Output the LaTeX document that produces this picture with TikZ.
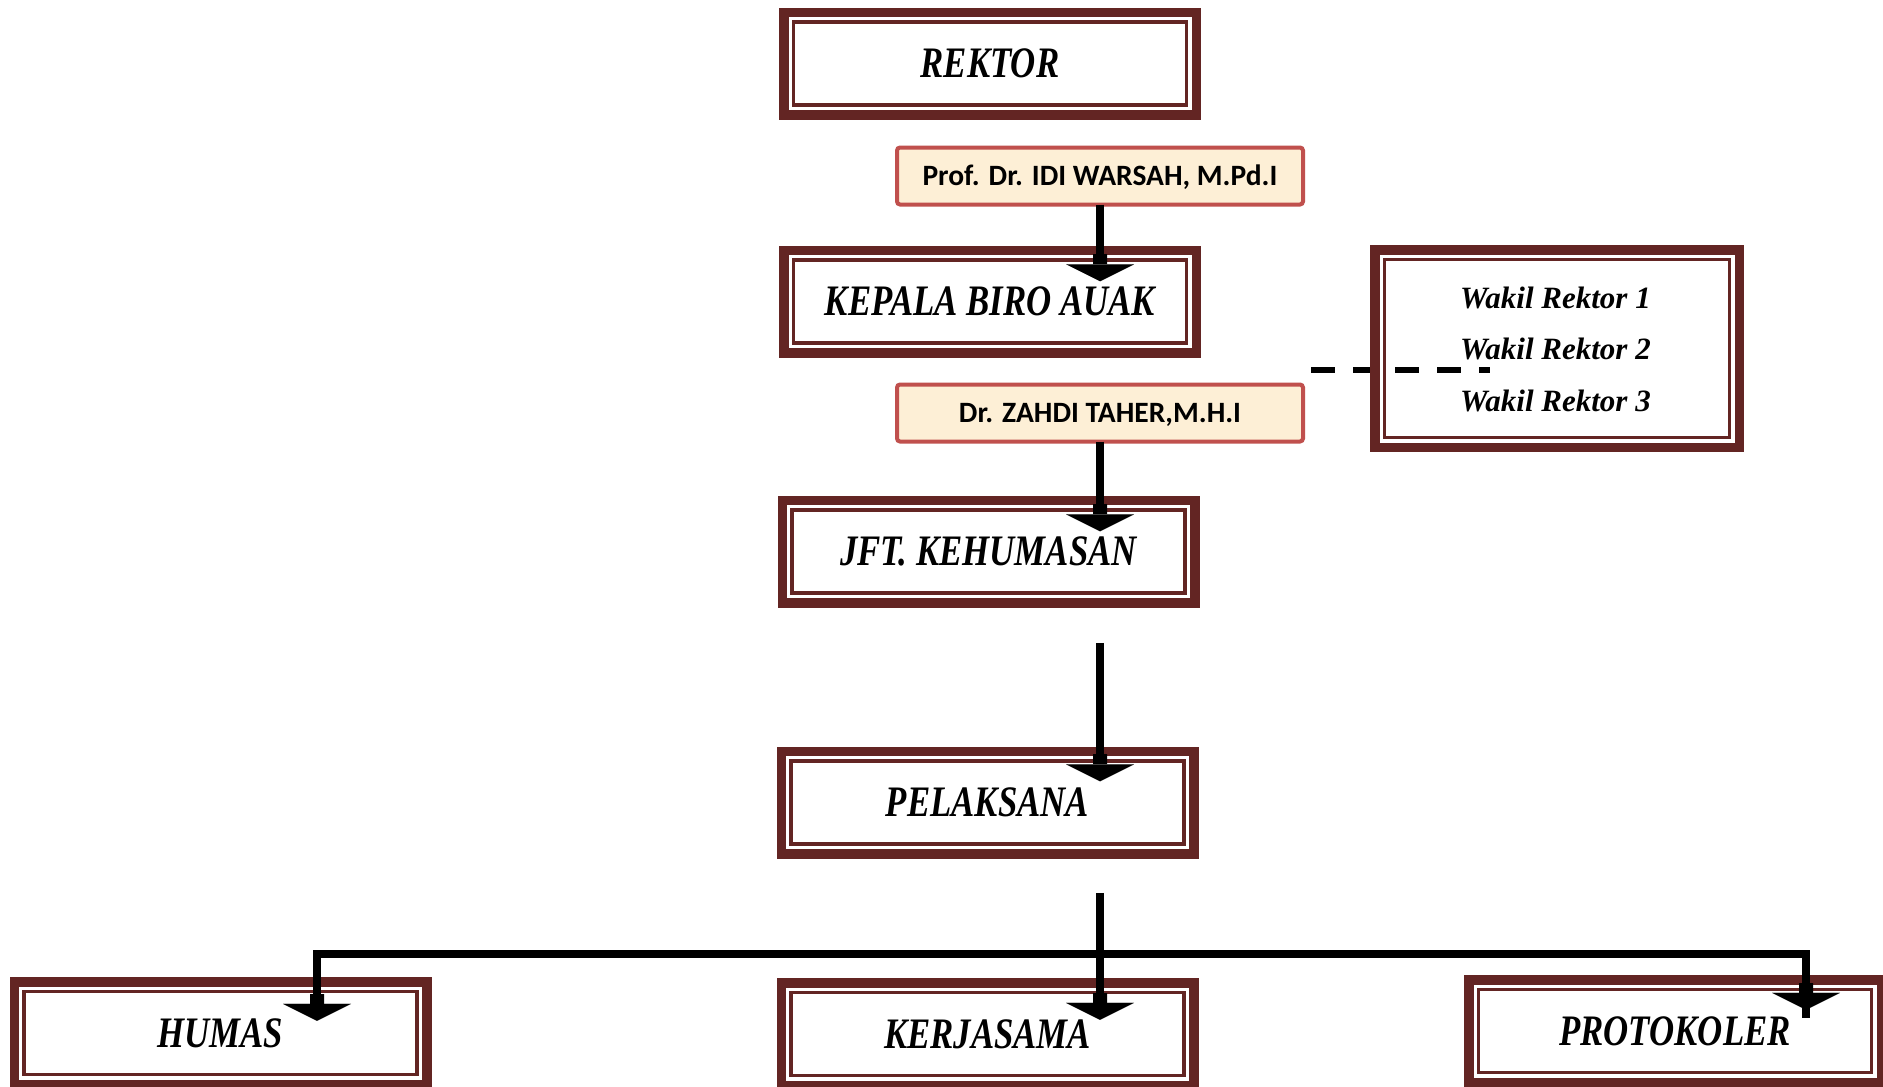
\documentclass[tikz,border=0pt]{standalone}
\usepackage{fontspec}
\setmainfont{Liberation Serif}
\newfontfamily\titlefont[FakeStretch=0.8]{Liberation Serif}
\newfontfamily\wakilfont{Liberation Serif}
\newfontfamily\namefont{Carlito}
\usetikzlibrary{arrows.meta,calc}
\definecolor{framecol}{RGB}{99,37,35}
\definecolor{namecol}{RGB}{192,80,77}
\definecolor{creamcol}{RGB}{253,239,214}
\tikzset{
 orgbox/.style={draw=framecol, line width=9.5pt, outer sep=0pt, inner sep=0pt,
   minimum width=412.5pt, minimum height=102.5pt,
   font=\titlefont\bfseries\itshape\fontsize{43.5pt}{50pt}\selectfont,
   text height=28.8pt, text depth=0pt},
 namebox/.style={draw=namecol, line width=4pt, fill=creamcol, rounded corners=3pt,
   outer sep=0pt, inner sep=0pt, minimum width=406pt, minimum height=57pt,
   font=\namefont\bfseries\fontsize{29.5pt}{34pt}\selectfont,
   text height=19pt, text depth=0pt},
 innerframe/.style={draw=framecol, line width=3.3pt},
 conn/.style={line width=8pt,
   -{Rectangle[length=10pt 0, width=14pt 0, line width=0.01pt]Triangle[length=17pt 0, width=68pt 0, line width=0.01pt]}},
 stemline/.style={line width=8pt},
 dashline/.style={line width=6.5pt, dash pattern=on 24pt off 18pt},
 wakiltext/.style={anchor=base west, inner sep=0pt,
   font=\wakilfont\bfseries\itshape\fontsize{31pt}{36pt}\selectfont},
}
\newcommand\innerfr[1]{\draw[innerframe] ([shift={(9.7pt,-9.7pt)}]#1.north west) rectangle ([shift={(-9.7pt,9.7pt)}]#1.south east);}
\begin{document}
\begin{tikzpicture}[x=1pt,y=-1pt]
\useasboundingbox[fill=white] (0,0) rectangle (1883,1087);
% main boxes
\node[orgbox] (rektor) at (990,63.5) {REKTOR}; \innerfr{rektor}
\node[orgbox] (kepala) at (990,301.5) {KEPALA BIRO AUAK}; \innerfr{kepala}
\node[orgbox] (jft) at (988.5,551.5) {JFT. KEHUMASAN}; \innerfr{jft}
\node[orgbox] (pel) at (987.5,802.5) {PELAKSANA}; \innerfr{pel}
\node[orgbox] (humas) at (220.5,1033) {HUMAS}; \innerfr{humas}
\node[orgbox] (kerja) at (987.5,1034) {KERJASAMA}; \innerfr{kerja}
\node[orgbox] (proto) at (1675,1031) {PROTOKOLER}; \innerfr{proto}
% name boxes
\node[namebox] (prof) at (1100,176) {Prof. Dr. IDI WARSAH, M.Pd.I};
\node[namebox] (zahdi) at (1100,413) {Dr. ZAHDI TAHER,M.H.I};
% dashed link and wakil box
\coordinate (dstart) at (1311,370);
\coordinate (dend) at (1490,370);
\draw[dashline] (dstart) -- (dend);
\node[orgbox, fill=none, minimum width=364.5pt, minimum height=197.5pt] (wakil) at (1557,348.5) {}; \innerfr{wakil}
\node[wakiltext] (wr1) at (1460,308) {Wakil Rektor 1};
\node[wakiltext] (wr2) at (1460,359.5) {Wakil Rektor 2};
\node[wakiltext] (wr3) at (1460,411) {Wakil Rektor 3};
% connectors
\coordinate (bus) at (1101,954);
\coordinate (busL) at (317,954);
\coordinate (busR) at (1806,954);
\draw[conn] (prof.south) -- ($(kepala.north -| prof.south)+(0,31)$);
\draw[conn] (zahdi.south) -- ($(jft.north -| zahdi.south)+(0,31)$);
\draw[conn] ($(jft.south -| zahdi.south)+(0,40)$) -- ($(pel.north -| zahdi.south)+(0,30)$);
\draw[conn] ($(pel.south -| zahdi.south)+(0,39)$) -- ($(kerja.north -| zahdi.south)+(0,37)$);
\draw[conn] (bus) -| ($(humas.north -| busL)+(0,39)$);
\draw[conn] (bus) -| ($(proto.north -| busR)+(0,30)$);
\draw[stemline] ($(proto.north -| busR)+(0,24)$) -- ($(proto.north -| busR)+(0,38)$);
\end{tikzpicture}
\end{document}
